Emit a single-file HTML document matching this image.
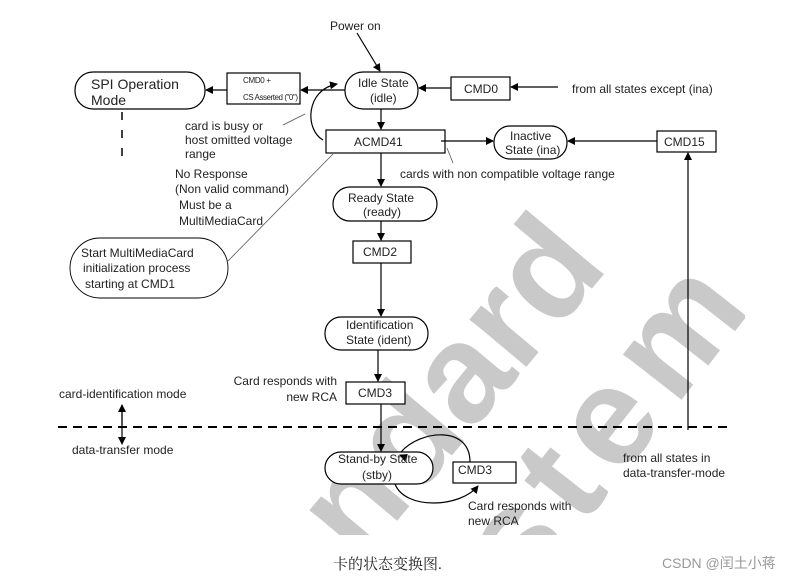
<!DOCTYPE html>
<html><head><meta charset="utf-8"><style>
html,body{margin:0;padding:0;background:#fff;width:808px;height:584px;overflow:hidden}
svg{display:block}
text{font-family:"Liberation Sans",sans-serif;fill:#222;font-size:12px}
</style></head><body>
<svg width="808" height="584" viewBox="0 0 808 584" xmlns="http://www.w3.org/2000/svg">
<defs>
<marker id="a" markerWidth="8" markerHeight="8" refX="7" refY="4" orient="auto" markerUnits="userSpaceOnUse"><path d="M0,0 L8,4 L0,8 z" fill="#000"/></marker>
<clipPath id="c"><rect x="0" y="0" width="745" height="535"/></clipPath>
</defs>
<g clip-path="url(#c)">
<text x="360" y="565" transform="rotate(-50 360 565)" style="font-size:140px;font-weight:bold;fill:#c9c9c9">ndard</text>
<text x="525" y="600" transform="rotate(-52 525 600)" style="font-size:140px;font-weight:bold;fill:#c9c9c9;letter-spacing:14px">stem</text>
</g>
<g stroke="#000" stroke-width="1.2" fill="none">
<rect x="75" y="72" width="130" height="37" rx="18" fill="#fff"/>
<rect x="345" y="72" width="73" height="37" rx="18" fill="#fff"/>
<rect x="494" y="126" width="73" height="33" rx="16" fill="#fff"/>
<rect x="333" y="187" width="104" height="34" rx="17" fill="#fff"/>
<rect x="325" y="317" width="103" height="33" rx="16" fill="#fff"/>
<rect x="325" y="452" width="108" height="32" rx="16" fill="#fff"/>
<rect x="70" y="238" width="158" height="60" rx="30" fill="#fff" stroke-width="0.9"/>
<rect x="227" y="73" width="73" height="31" fill="#fff"/>
<rect x="451" y="77" width="59" height="23" fill="#fff"/>
<rect x="326" y="130" width="119" height="23" fill="#fff"/>
<rect x="657" y="131" width="59" height="21" fill="#fff"/>
<rect x="353" y="241" width="58" height="22" fill="#fff"/>
<rect x="346" y="382" width="59" height="22" fill="#fff"/>
<rect x="453" y="462" width="63" height="21" fill="#fff"/>
<path d="M357,33 L380,71" marker-end="url(#a)"/>
<path d="M558,87 L511,87" marker-end="url(#a)"/>
<path d="M451,88 L419,88" marker-end="url(#a)"/>
<path d="M345,90 L301,90" marker-end="url(#a)"/>
<path d="M227,90 L206,90" marker-end="url(#a)"/>
<path d="M381,109 L381,129" marker-end="url(#a)"/>
<path d="M441,141 L493,141" marker-end="url(#a)"/>
<path d="M657,141 L568,141" marker-end="url(#a)"/>
<path d="M688,430 L688,153" marker-end="url(#a)"/>
<path d="M381,153 L381,186" marker-end="url(#a)"/>
<path d="M381,221 L381,240" marker-end="url(#a)"/>
<path d="M381,263 L381,316" marker-end="url(#a)"/>
<path d="M378,350 L378,381" marker-end="url(#a)"/>
<path d="M381,404 L381,451" marker-end="url(#a)"/>
<path d="M323,140 C305,130 305,90 337,84" marker-end="url(#a)"/>
<path d="M401,452 C420,430 470,425 470,462" />
<path d="M407,458 L400,455" marker-end="url(#a)"/>
<path d="M395,484 C405,510 460,508 478,486" marker-end="url(#a)"/>
<path d="M122,405 L122,444" marker-end="url(#a)"/>
<path d="M122,425 L122,405" marker-end="url(#a)"/>
</g>
<g stroke="#555" stroke-width="0.8" fill="none">
<path d="M283,125 L305,114"/>
<path d="M333,154 L227,262"/>
<path d="M447,148 L453,163"/>
</g>
<path d="M122,112 L122,165" stroke="#000" stroke-width="1.5" stroke-dasharray="8,10"/>
<path d="M58,427 L730,427" stroke="#000" stroke-width="2" stroke-dasharray="9,6"/>
<text x="330" y="30">Power on</text>
<text x="91" y="89" style="font-size:14px">SPI Operation</text>
<text x="91" y="105" style="font-size:14px">Mode</text>
<text x="243" y="83" style="font-size:8px" textLength="28">CMD0 +</text>
<text x="243" y="100" style="font-size:8px" textLength="55">CS Asserted ("0")</text>
<text x="358" y="87">Idle State</text>
<text x="370" y="102">(idle)</text>
<text x="464" y="93">CMD0</text>
<text x="572" y="93">from all states except (ina)</text>
<text x="185" y="130">card is busy or</text>
<text x="185" y="144">host omitted voltage</text>
<text x="185" y="158">range</text>
<text x="354" y="146">ACMD41</text>
<text x="510" y="140">Inactive</text>
<text x="505" y="154">State (ina)</text>
<text x="664" y="146">CMD15</text>
<text x="400" y="178">cards with non compatible voltage range</text>
<text x="175" y="178">No Response</text>
<text x="175" y="193">(Non valid command)</text>
<text x="179" y="209">Must be a</text>
<text x="179" y="225">MultiMediaCard</text>
<text x="348" y="202">Ready State</text>
<text x="363" y="216">(ready)</text>
<text x="363" y="256">CMD2</text>
<text x="81" y="257">Start MultiMediaCard</text>
<text x="83" y="272">initialization process</text>
<text x="85" y="288">starting at CMD1</text>
<text x="346" y="329">Identification</text>
<text x="346" y="344">State (ident)</text>
<text x="337" y="385" text-anchor="end">Card responds with</text>
<text x="337" y="401" text-anchor="end">new RCA</text>
<text x="358" y="397">CMD3</text>
<text x="59" y="398">card-identification mode</text>
<text x="72" y="454">data-transfer mode</text>
<text x="338" y="463">Stand-by State</text>
<text x="362" y="479">(stby)</text>
<text x="458" y="474">CMD3</text>
<text x="468" y="510">Card responds with</text>
<text x="468" y="525">new RCA</text>
<text x="623" y="462">from all states in</text>
<text x="623" y="477">data-transfer-mode</text>
<text x="333" y="569" style="font-family:'Liberation Serif','Noto Serif CJK SC',serif;font-size:15px">卡的状态变换图.</text>
<text x="662" y="568" style="font-family:'Liberation Sans','Noto Sans CJK SC',sans-serif;font-size:14px;fill:#999">CSDN @闰土小蒋</text>
</svg>
</body></html>
